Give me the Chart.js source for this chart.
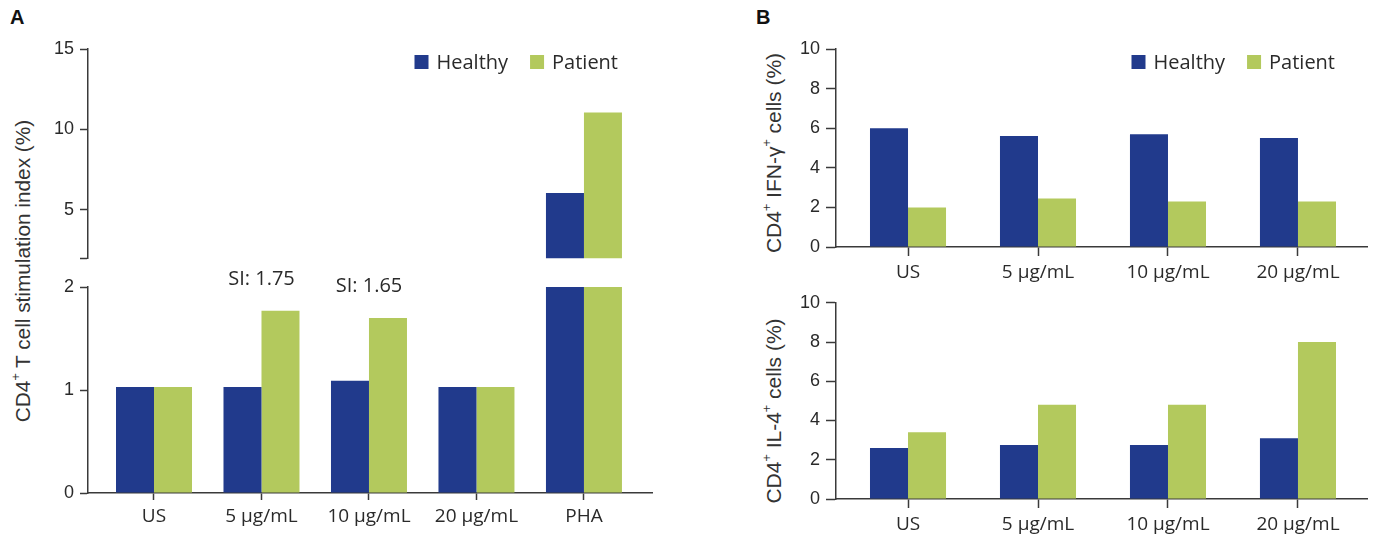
<!DOCTYPE html>
<html>
<head>
<meta charset="utf-8">
<title>CD4 T cell responses</title>
<script src="https://cdn.jsdelivr.net/npm/chart.js@4.4.1/dist/chart.umd.min.js"></script>
<style>
  body { margin: 0; width: 1375px; height: 540px; position: relative; overflow: hidden; background: #fff;
         font-family: 'Liberation Sans', Arial, sans-serif; color: #2a2a2a; }
  canvas { position: absolute; }
  .panel { position: absolute; font: bold 20px 'Liberation Sans', Arial, sans-serif; line-height: 1; color: #111; }
  .ytitle { position: absolute; white-space: nowrap; line-height: 1; color: #333;
            transform: translate(-50%, -50%) rotate(-90deg); }
  .ytitle sup { font-size: 0.6em; vertical-align: 0.75em; line-height: 0; }
</style>
</head>
<body>
<div class="panel" style="left:10px; top:7px;">A</div>
<div class="panel" style="left:756px; top:7px;">B</div>

<div class="ytitle" style="left:23px; top:271px; font-size:20.8px;">CD4<sup>+</sup> T cell stimulation index (%)</div>
<div class="ytitle" style="left:773px; top:153px; font-size:21px;">CD4<sup>+</sup> IFN-γ<sup>+</sup> cells (%)</div>
<div class="ytitle" style="left:773px; top:411px; font-size:21px;">CD4<sup>+</sup> IL-4<sup>+</sup> cells (%)</div>

<canvas id="siUpper" width="700" height="275" style="left:0; top:0;"></canvas>
<canvas id="siLower" width="700" height="275" style="left:0; top:265px;"></canvas>
<canvas id="ifnChart" width="635" height="290" style="left:740px; top:0;"></canvas>
<canvas id="il4Chart" width="635" height="254" style="left:740px; top:286px;"></canvas>

<script>
// ---- data ----
const seriesNames = ['Healthy', 'Patient'];

const categoriesA = ['US', '5 µg/mL', '10 µg/mL', '20 µg/mL', 'PHA'];
const healthySI = [1.03, 1.03, 1.09, 1.03, 6.05];
const patientSI = [1.03, 1.77, 1.70, 1.03, 11.05];
const siNotes = ['', 'SI: 1.75', 'SI: 1.65', '', ''];

const categoriesB = ['US', '5 µg/mL', '10 µg/mL', '20 µg/mL'];
const healthyIFN = [6.0, 5.6, 5.7, 5.5];
const patientIFN = [2.0, 2.45, 2.3, 2.3];
const healthyIL4 = [2.6, 2.75, 2.75, 3.1];
const patientIL4 = [3.4, 4.8, 4.8, 8.0];

// y ranges / tick steps
const upperRangeA = [2, 15, 5];
const lowerRangeA = [0, 2, 1];
const rangeB = [0, 10, 2];

const NAVY = '#213a8c';
const LIME = '#b3c95d';
const AXIS = '#3a3a3a';
const LABEL_FONT = "'Open Sans', 'Noto Sans', sans-serif";

Chart.defaults.font.family = "'Liberation Sans', Arial, sans-serif";
Chart.defaults.color = '#2a2a2a';

// legend drawn in the top right corner of the plot area
const cornerLegend = {
  id: 'cornerLegend',
  afterDraw(chart, args, opts) {
    if (!opts.show) return;
    const { ctx, chartArea } = chart;
    ctx.save();
    ctx.font = '20px ' + LABEL_FONT;
    ctx.textBaseline = 'middle';
    let x = chartArea.right - opts.right;
    const y = chartArea.top + opts.top;
    chart.data.datasets.slice().reverse().forEach(ds => {
      const w = ctx.measureText(ds.label).width;
      x -= w;
      ctx.fillStyle = '#2a2a2a';
      ctx.fillText(ds.label, x, y + 1);
      x -= 8 + 14;
      ctx.fillStyle = ds.backgroundColor;
      ctx.fillRect(x, y - 7, 14, 14);
      x -= 22;
    });
    ctx.restore();
  }
};

// "SI: x" notes above the patient bars
const barNotes = {
  id: 'barNotes',
  afterDatasetsDraw(chart, args, opts) {
    if (!opts.notes) return;
    const { ctx } = chart;
    const xs = chart.scales.x, ys = chart.scales.y;
    ctx.save();
    ctx.font = '20px ' + LABEL_FONT;
    ctx.textAlign = 'center';
    ctx.textBaseline = 'alphabetic';
    ctx.fillStyle = '#2a2a2a';
    opts.notes.forEach((t, i) => {
      if (!t) return;
      const top = ys.getPixelForValue(Math.max(opts.a[i], opts.b[i]));
      ctx.fillText(t, xs.getPixelForValue(i), top - 26);
    });
    ctx.restore();
  }
};

function pairs(values) {
  return values.map((v, i) => ({ x: i, y: v }));
}

function barChart(id, cats, healthy, patient, o) {
  return new Chart(document.getElementById(id), {
    type: 'bar',
    data: {
      datasets: [
        { label: seriesNames[0], data: pairs(healthy), backgroundColor: NAVY,
          categoryPercentage: o.cat, barPercentage: 1 },
        { label: seriesNames[1], data: pairs(patient), backgroundColor: LIME,
          categoryPercentage: o.cat, barPercentage: 1 }
      ]
    },
    options: {
      responsive: false,
      animation: false,
      layout: { padding: o.pad },
      plugins: {
        legend: { display: false },
        tooltip: { enabled: false },
        cornerLegend: { show: !!o.legend, right: o.legendRight || 33, top: 13 },
        barNotes: o.notes ? { notes: o.notes, a: healthy, b: patient } : {}
      },
      scales: {
        x: {
          type: 'linear',
          min: o.xRange[0],
          max: o.xRange[1],
          offset: false,
          display: o.showX,
          grid: { offset: false, drawOnChartArea: false, tickLength: o.xTick, tickColor: AXIS, tickWidth: 1.5 },
          border: { color: AXIS, width: 1.5 },
          ticks: {
            stepSize: 1,
            includeBounds: false,
            padding: 5,
            color: '#2a2a2a',
            font: { family: LABEL_FONT, size: 19 },
            callback: v => (Number.isInteger(v) && cats[v]) ? cats[v] : ''
          },
          afterFit: s => { s.height = o.xHeight; }
        },
        y: {
          min: o.yRange[0],
          max: o.yRange[1],
          grid: { drawOnChartArea: false, tickLength: o.yTick, tickColor: AXIS, tickWidth: 1.5 },
          border: { color: AXIS, width: 1.5 },
          ticks: {
            stepSize: o.yRange[2],
            padding: 6,
            color: '#2a2a2a',
            font: { size: 18 },
            callback: v => (o.hideTick === v) ? '' : v
          },
          afterFit: s => { s.width = o.yWidth; }
        }
      }
    },
    plugins: [cornerLegend, barNotes]
  });
}

// panel A: broken y axis, upper part
barChart('siUpper', categoriesA, healthySI, patientSI, {
  cat: 0.707, xRange: [-0.614, 4.633], yRange: upperRangeA, hideTick: 2,
  showX: false, xTick: 7, xHeight: 0, yTick: 8, yWidth: 88,
  pad: { top: 49, right: 48, bottom: 0, left: 0 },
  legend: true, legendRight: 34
});

// panel A: lower part
barChart('siLower', categoriesA, healthySI, patientSI, {
  cat: 0.707, xRange: [-0.614, 4.633], yRange: lowerRangeA,
  showX: true, xTick: 7, xHeight: 40, yTick: 8, yWidth: 88,
  pad: { top: 22, right: 48, bottom: 7, left: 0 },
  notes: siNotes
});

// panel B: IFN-gamma
barChart('ifnChart', categoriesB, healthyIFN, patientIFN, {
  cat: 0.585, xRange: [-0.554, 3.531], yRange: rangeB,
  showX: true, xTick: 9, xHeight: 36, yTick: 10, yWidth: 96,
  pad: { top: 49, right: 8, bottom: 7, left: 0 },
  legend: true, legendRight: 32
});

// panel B: IL-4
barChart('il4Chart', categoriesB, healthyIL4, patientIL4, {
  cat: 0.585, xRange: [-0.554, 3.531], yRange: rangeB,
  showX: true, xTick: 9, xHeight: 36, yTick: 10, yWidth: 96,
  pad: { top: 0, right: 8, bottom: 5, left: 0 }
});
</script>
</body>
</html>
